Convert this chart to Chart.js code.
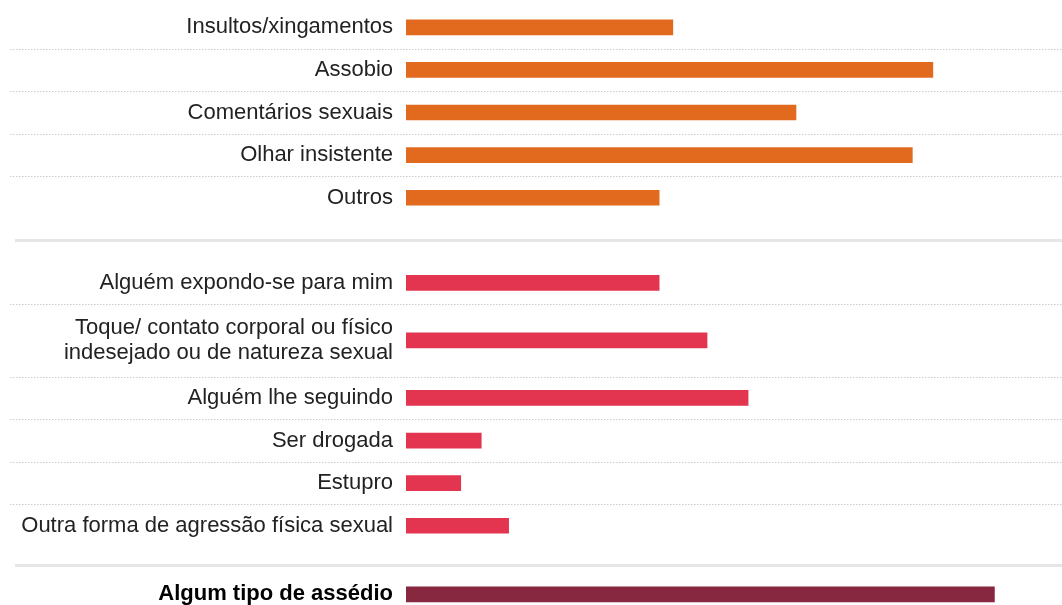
<!DOCTYPE html>
<html lang="pt">
<head>
<meta charset="utf-8">
<script src="https://cdn.jsdelivr.net/npm/chart.js@4/dist/chart.umd.min.js"></script>
<style>
  html, body { margin: 0; padding: 0; background: #ffffff; overflow: hidden; }
  #wrap { width: 1062px; height: 605px; position: relative; }
</style>
</head>
<body>
<div id="wrap"><canvas id="c"></canvas></div>
<script>
// ---- Data (percent of women) ----
const verbalLabels = ['Insultos/xingamentos', 'Assobio', 'Comentários sexuais', 'Olhar insistente', 'Outros'];
const verbalValues = [39, 77, 57, 74, 37];

const physicalLabels = [
  'Alguém expondo-se para mim',
  ['Toque/ contato corporal ou físico', 'indesejado ou de natureza sexual'],
  'Alguém lhe seguindo',
  'Ser drogada',
  'Estupro',
  'Outra forma de agressão física sexual'
];
const physicalValues = [37, 44, 50, 11, 8, 15];

const totalLabels = ['Algum tipo de assédio'];
const totalValues = [86];

const axisMin = 0;
const axisMax = 95;

// ---- Build rows (with spacer rows between groups) ----
const GAP = '';
const labels = [...verbalLabels, GAP, ...physicalLabels, GAP, ...totalLabels];
const values = [...verbalValues, null, ...physicalValues, null, ...totalValues];

const groupColors = { verbal: '#e26a1f', physical: '#e3354f', total: '#882740' };
const colors = [
  ...verbalLabels.map(() => groupColors.verbal), 'rgba(0,0,0,0)',
  ...physicalLabels.map(() => groupColors.physical), 'rgba(0,0,0,0)',
  ...totalLabels.map(() => groupColors.total)
];

// Relative row heights (layout only)
const firstGapIndex = verbalLabels.length;
const secondGapIndex = verbalLabels.length + 1 + physicalLabels.length;
const rowWeights = labels.map((l, i) => {
  if (i === firstGapIndex) return 1.0;
  if (i === secondGapIndex) return 0.86;
  if (i === labels.length - 1) return 0.5;
  if (Array.isArray(l)) return 1.7;
  return 1;
});
const totalWeight = rowWeights.reduce((a, b) => a + b, 0);
const rowStarts = [];
(function () { let acc = 0; rowWeights.forEach(w => { rowStarts.push(acc); acc += w; }); })();

// ---- Category scale with variable row heights ----
class RowScale extends Chart.CategoryScale {
  _frac(v) { return v / totalWeight; }
  getPixelForValue(value) {
    if (typeof value !== 'number') value = this.parse(value);
    if (value === null || isNaN(value)) return NaN;
    const center = rowStarts[value] + rowWeights[value] / 2;
    return this.top + this._frac(center) * (this.bottom - this.top);
  }
  getRowEdge(index) {
    const pos = index >= rowStarts.length ? totalWeight : rowStarts[index];
    return this.top + this._frac(pos) * (this.bottom - this.top);
  }
  getValueForPixel(pixel) {
    const w = ((pixel - this.top) / (this.bottom - this.top)) * totalWeight;
    for (let i = 0; i < rowStarts.length; i++) {
      if (w < rowStarts[i] + rowWeights[i]) return i;
    }
    return rowStarts.length - 1;
  }
}
RowScale.id = 'rows';
RowScale.defaults = Chart.CategoryScale.defaults;
Chart.register(RowScale);

// ---- Row separator lines ----
const rowLines = {
  id: 'rowLines',
  beforeDatasetsDraw(chart) {
    const y = chart.scales.y;
    const ctx = chart.ctx;
    ctx.save();
    for (let i = 0; i < labels.length; i++) {
      const isGap = (i === firstGapIndex || i === secondGapIndex);
      if (isGap) {
        const yc = Math.round(y.getPixelForValue(i)) + 0.5;
        ctx.setLineDash([]);
        ctx.strokeStyle = '#e6e6e6';
        ctx.lineWidth = 3;
        ctx.beginPath();
        ctx.moveTo(15, yc);
        ctx.lineTo(chart.width, yc);
        ctx.stroke();
      } else if (i < labels.length - 1) {
        const nextGap = (i + 1 === firstGapIndex || i + 1 === secondGapIndex);
        if (nextGap) continue;
        const yb = Math.round(y.getRowEdge(i + 1)) + 0.5;
        ctx.setLineDash([1.5, 1.5]);
        ctx.strokeStyle = '#cccccc';
        ctx.lineWidth = 1;
        ctx.beginPath();
        ctx.moveTo(10, yb);
        ctx.lineTo(chart.width, yb);
        ctx.stroke();
      }
    }
    ctx.restore();
  }
};

new Chart(document.getElementById('c'), {
  type: 'bar',
  data: {
    labels: labels,
    datasets: [{
      data: values,
      backgroundColor: colors,
      borderWidth: 0,
      barThickness: 15
    }]
  },
  plugins: [rowLines],
  options: {
    indexAxis: 'y',
    responsive: true,
    maintainAspectRatio: false,
    animation: false,
    layout: { padding: { top: 6, bottom: 0, left: 0, right: 6 } },
    plugins: { legend: { display: false }, tooltip: { enabled: false } },
    scales: {
      x: {
        type: 'linear',
        display: false,
        min: axisMin,
        max: axisMax,
        grid: { display: false }
      },
      y: {
        type: 'rows',
        position: 'left',
        grid: { display: false, drawTicks: false },
        border: { display: false },
        ticks: {
          autoSkip: false,
          padding: 13,
          color: (c) => c.index === labels.length - 1 ? '#000000' : '#222222',
          font: (c) => ({
            family: "'Liberation Sans', Arial, Helvetica, sans-serif",
            size: 22,
            lineHeight: 1.15,
            weight: c.index === labels.length - 1 ? 'bold' : 'normal'
          })
        },
        afterFit(scale) {
          scale.width = 406;
          scale.paddingTop = 0;
          scale.paddingBottom = 0;
        }
      }
    }
  }
});
</script>
</body>
</html>
